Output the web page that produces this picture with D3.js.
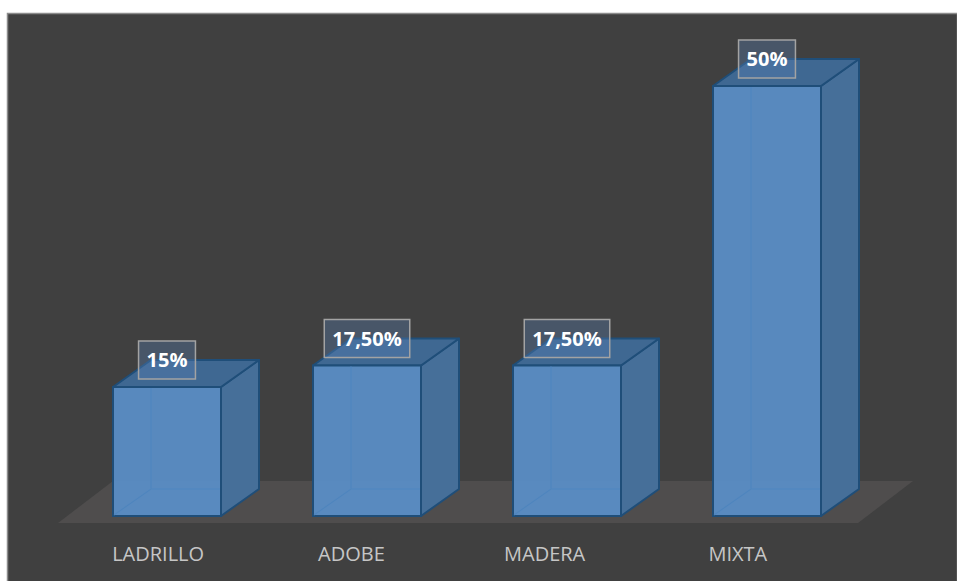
<!DOCTYPE html>
<html>
<head>
<meta charset="utf-8">
<script src="https://cdnjs.cloudflare.com/ajax/libs/d3/7.8.5/d3.min.js"></script>
<style>
  body { margin: 0; background: #fff; }
  svg { display: block; }
</style>
</head>
<body>
<svg class="chart" width="957" height="581"></svg>
<script>
// data
var categories = ["LADRILLO", "ADOBE", "MADERA", "MIXTA"];
var values = [15, 17.5, 17.5, 50];
var valueLabels = ["15%", "17,50%", "17,50%", "50%"];

var width = 957, height = 581;
var depthX = 38, depthY = 27;   // 3d offset of the bars
var floorY = 516;

var svg = d3.select(".chart");

// dark panel
svg.append("rect")
    .attr("x", 7.5).attr("y", 13.5)
    .attr("width", 950).attr("height", 570)
    .attr("fill", "#404040")
    .attr("stroke", "#8c8c8c")
    .attr("stroke-width", 1.5);

var x = d3.scaleBand()
    .domain(categories)
    .range([67, 867])
    .paddingInner(0.46)
    .paddingOuter(0.23);

var y = d3.scaleLinear()
    .domain([0, 50])
    .range([floorY, 86]);

// labels sit a bit left of the bars (perspective)
var xLabel = d3.scaleBand()
    .domain(categories)
    .range([61.5, 834.5]);

// floor
var fl = 58, fr = 858, fy = 523, fdx = 55, fdy = 42;
svg.append("path")
    .attr("d", "M" + fl + "," + fy + "L" + fr + "," + fy + "L" + (fr + fdx) + "," + (fy - fdy) +
               "L" + (fl + fdx) + "," + (fy - fdy) + "Z")
    .attr("fill", "#4f4d4d");

var data = categories.map(function(c, i) {
    return { cat: c, value: values[i], label: valueLabels[i] };
});

var bar = svg.selectAll("g.bar")
    .data(data)
    .enter().append("g")
    .attr("class", "bar");

var stroke = "#1f4e79";

// hidden back edges, seen through the faces
bar.append("path")
    .attr("d", function(d) {
        var x0 = x(d.cat), y0 = y(0), y1 = y(d.value);
        return "M" + x0 + "," + y0 + "L" + (x0 + depthX) + "," + (y0 - depthY) +
               "L" + (x0 + depthX + x.bandwidth()) + "," + (y0 - depthY) +
               "M" + (x0 + depthX) + "," + (y0 - depthY) + "L" + (x0 + depthX) + "," + (y1 - depthY);
    })
    .attr("fill", "none")
    .attr("stroke", "#4a7fb5")
    .attr("stroke-width", 1.5);

// right side
bar.append("path")
    .attr("d", function(d) {
        var x1 = x(d.cat) + x.bandwidth(), y0 = y(0), y1 = y(d.value);
        return "M" + x1 + "," + y0 + "L" + (x1 + depthX) + "," + (y0 - depthY) +
               "L" + (x1 + depthX) + "," + (y1 - depthY) + "L" + x1 + "," + y1 + "Z";
    })
    .attr("fill", "#466f99")
    .attr("stroke", stroke)
    .attr("stroke-width", 2)
    .attr("stroke-linejoin", "round");

// top
bar.append("path")
    .attr("d", function(d) {
        var x0 = x(d.cat), x1 = x0 + x.bandwidth(), y1 = y(d.value);
        return "M" + x0 + "," + y1 + "L" + x1 + "," + y1 + "L" + (x1 + depthX) + "," + (y1 - depthY) +
               "L" + (x0 + depthX) + "," + (y1 - depthY) + "Z";
    })
    .attr("fill", "#3f6892")
    .attr("stroke", stroke)
    .attr("stroke-width", 2)
    .attr("stroke-linejoin", "round");

// front
bar.append("rect")
    .attr("x", function(d) { return x(d.cat); })
    .attr("y", function(d) { return y(d.value); })
    .attr("width", x.bandwidth())
    .attr("height", function(d) { return y(0) - y(d.value); })
    .attr("fill", "#5a8dc4")
    .attr("fill-opacity", 0.96)
    .attr("stroke", stroke)
    .attr("stroke-width", 2);

// faint inner back edges on the front face
bar.append("path")
    .attr("d", function(d) {
        var x0 = x(d.cat), y0 = y(0), y1 = y(d.value);
        return "M" + (x0 + 1) + "," + (y0 - 1) + "L" + (x0 + depthX) + "," + (y0 - depthY) +
               "L" + (x0 + x.bandwidth() - 1) + "," + (y0 - depthY) +
               "M" + (x0 + depthX) + "," + (y0 - depthY) + "L" + (x0 + depthX) + "," + (y1 + 1);
    })
    .attr("fill", "none")
    .attr("stroke", "#4f85bd")
    .attr("stroke-width", 1.2);

// value labels
var lbl = bar.append("g")
    .attr("transform", function(d) {
        return "translate(" + (x(d.cat) + x.bandwidth() / 2) + "," + (y(d.value) - depthY) + ")";
    });

lbl.append("text")
    .attr("class", "val")
    .attr("text-anchor", "middle")
    .attr("dy", "0.36em")
    .attr("fill", "#ffffff")
    .style("font-family", "'Open Sans', sans-serif")
    .style("font-weight", "bold")
    .style("font-size", "20px")
    .text(function(d) { return d.label; });

lbl.insert("rect", "text")
    .each(function() {
        var t = d3.select(this.parentNode).select("text").node().getBBox();
        var w = t.width + 16;
        d3.select(this)
            .attr("x", -w / 2).attr("y", -19)
            .attr("width", w).attr("height", 38);
    })
    .attr("fill", "rgba(90,130,180,0.35)")
    .attr("stroke", "#a3a3a3")
    .attr("stroke-width", 1.5);

// category labels
svg.selectAll("text.cat")
    .data(categories)
    .enter().append("text")
    .attr("class", "cat")
    .attr("x", function(d) { return xLabel(d) + xLabel.bandwidth() / 2; })
    .attr("y", 561)
    .attr("text-anchor", "middle")
    .attr("fill", "#c6c6c6")
    .style("font-family", "'Open Sans', sans-serif")
    .style("font-size", "20px")
    .text(function(d) { return d; });
</script>
</body>
</html>
